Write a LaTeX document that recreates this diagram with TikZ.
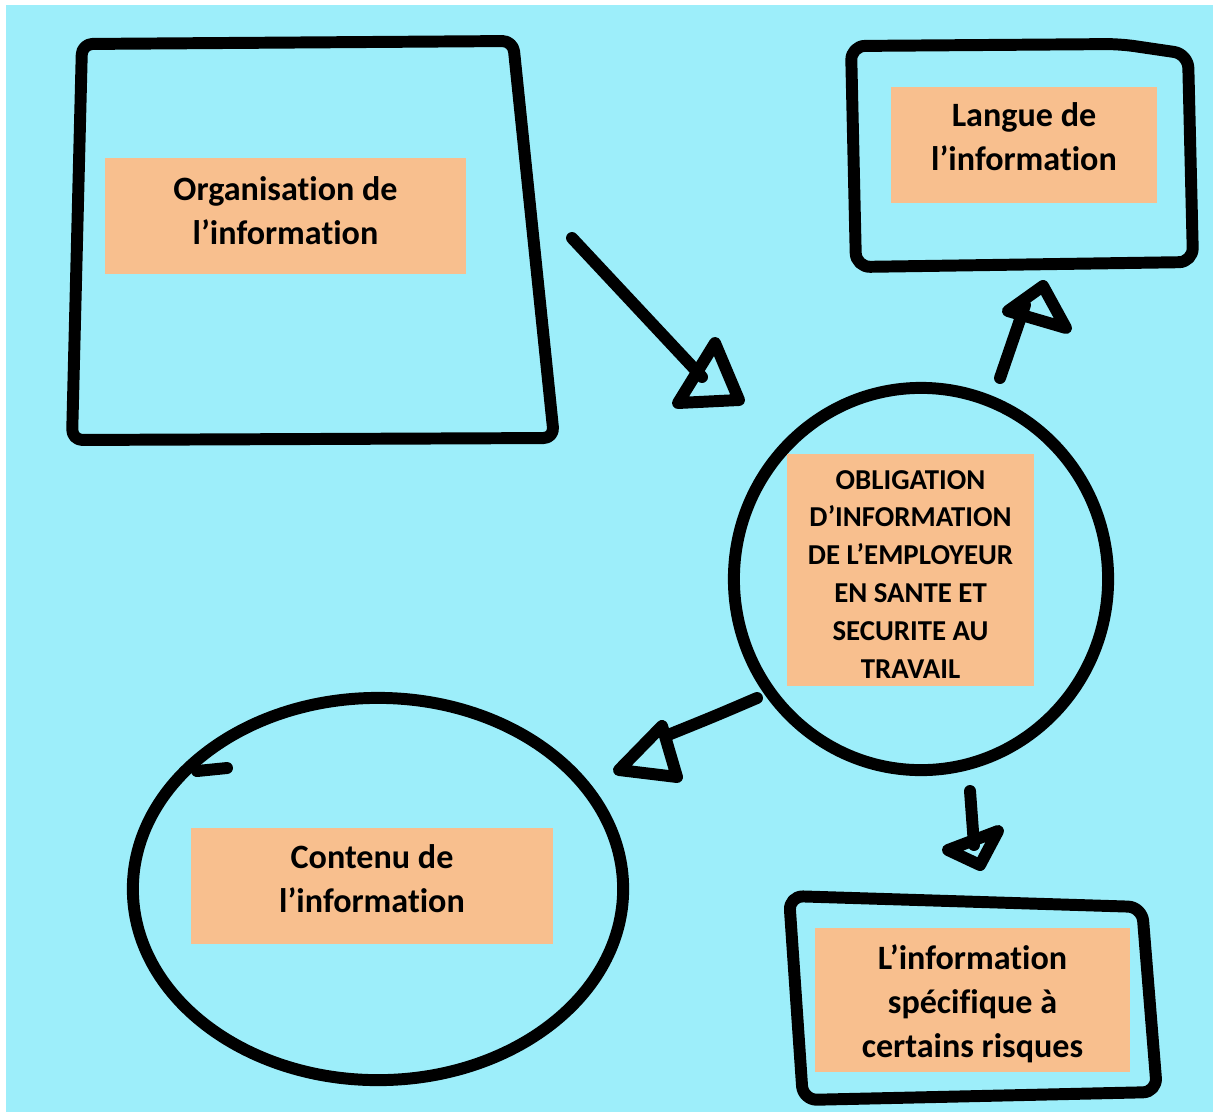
\documentclass[tikz,border=0pt]{standalone}
\usepackage{fontspec}
\setmainfont{Carlito}[RawFeature={-liga;-clig;-calt;-dlig}]
\definecolor{bgcyan}{RGB}{157,238,250}
\definecolor{boxorange}{RGB}{248,191,142}
\tikzset{
  sketch/.style={line width=3.4pt, draw=black, line join=round, line cap=round},
  orangefill/.style={fill=boxorange},
  labeltext/.style={inner sep=0pt, align=center, font=\bfseries\fontsize{9.7}{12.5}\selectfont},
  centertext/.style={inner sep=0pt, align=center, font=\bfseries\fontsize{8.2}{10.8}\selectfont},
}
\begin{document}
\begin{tikzpicture}[x=0.01cm, y=-0.01cm]
\useasboundingbox (0,0) rectangle (1213,1112);
\fill[white] (0,0) rectangle (1213,1112);
\fill[bgcyan] (6,5) rectangle (1213,1112);

% shapes
\draw[sketch, rounded corners=3] (82,44) -- (513,41) -- (554,438) -- (72,440) -- cycle;
\draw[sketch, rounded corners=4] (851,46) -- (1120,44) -- (1188,54) -- (1193,262) -- (856,267) -- cycle;
\draw[sketch, rounded corners=4] (789,896) -- (1142,907) -- (1157,1092) -- (803,1100) -- cycle;
\draw[sketch] (921,579) ellipse [x radius=1.87cm, y radius=1.91cm];
\draw[sketch] (378,889) ellipse [x radius=2.45cm, y radius=1.91cm];
\draw[sketch] (197,771) -- (227,768);

% orange boxes
\fill[orangefill] (105,158) rectangle (466,274);
\fill[orangefill] (891,87) rectangle (1157,203);
\fill[orangefill] (787,454) rectangle (1034,686);
\fill[orangefill] (191,828) rectangle (553,944);
\fill[orangefill] (815,928) rectangle (1130,1072);

% texts
\node[labeltext] (org) at (285.5,211) {Organisation de\\l’information};
\node[labeltext] (lang) at (1024,137) {Langue de\\l’information};
\node[centertext] (obl) at (910.5,574.5) {OBLIGATION\\D’INFORMATION\\DE L’EMPLOYEUR\\EN SANTE ET\\SECURITE AU\\TRAVAIL};
\node[labeltext] (cont) at (372,879) {Contenu de\\l’information};
\node[labeltext] (spec) at (972.5,1004) {L’information\\spécifique à\\certains risques};

% arrow coordinates
\coordinate (a1s) at (572,238);
\coordinate (a1e) at (702,377);
\coordinate (a2s) at (757,698);
\coordinate (a2e) at (668,735);
\coordinate (a3s) at (1000,378);
\coordinate (a3e) at (1025,305);
\coordinate (a4s) at (970,791);
\coordinate (a4e) at (974,845);

% arrows
\draw[sketch] (a1s) -- (a1e);
\draw[sketch] (715,343) -- (739,400) -- (678,403) -- cycle;
\draw[sketch] (a2s) .. controls (715,716) .. (a2e);
\draw[sketch] (662,726) -- (619,770) -- (677,777) -- cycle;
\draw[sketch] (a3s) -- (a3e);
\draw[sketch] (1043,286) -- (1008,311) -- (1066,328) -- cycle;
\draw[sketch] (a4s) -- (a4e);
\draw[sketch] (948,850) -- (998,831) -- (980,865) -- cycle;
\end{tikzpicture}
\end{document}
